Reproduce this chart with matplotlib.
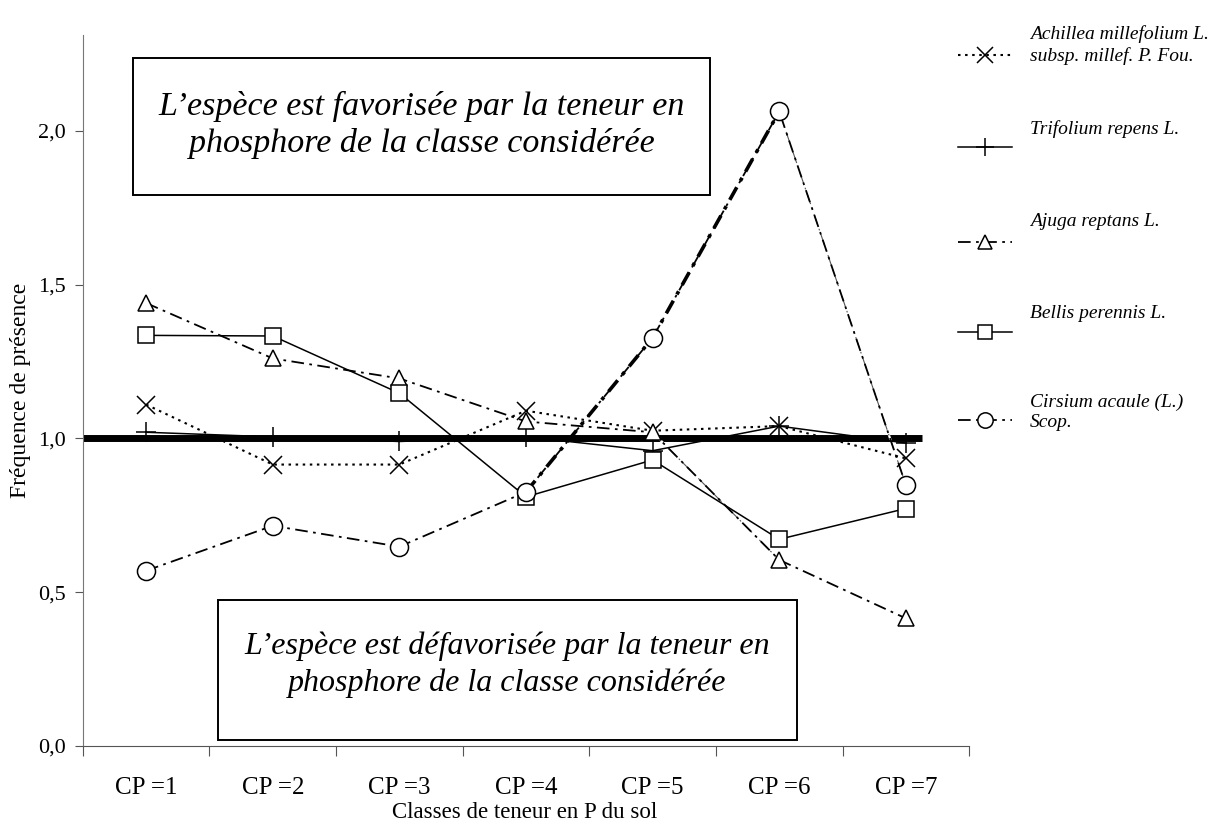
import matplotlib
matplotlib.use("Agg")
import matplotlib.pyplot as plt
from matplotlib.lines import Line2D
from matplotlib.patches import Rectangle
from matplotlib.ticker import FuncFormatter

plt.rcParams["font.family"] = ["Liberation Serif", "DejaVu Serif"]

classes = ["CP =1", "CP =2", "CP =3", "CP =4", "CP =5", "CP =6", "CP =7"]
achillea = [1.11, 0.915, 0.915, 1.09, 1.025, 1.04, 0.935]
trifolium = [1.02, 1.005, 0.99, 1.005, 0.96, 1.04, 0.985]
ajuga = [1.44, 1.26, 1.195, 1.055, 1.02, 0.605, 0.415]
bellis = [1.335, 1.333, 1.147, 0.81, 0.93, 0.672, 0.772]
cirsium = [0.57, 0.716, 0.648, 0.826, 1.327, 2.063, 0.849]

seuil = 1.0
y_ticks = [0.0, 0.5, 1.0, 1.5, 2.0]

labels = ["Achillea millefolium L.\nsubsp. millef. P. Fou.",
          "Trifolium repens L.",
          "Ajuga reptans L.",
          "Bellis perennis L.",
          "Cirsium acaule (L.)\nScop."]

dashdot = (0, (7, 3, 1.5, 3))
styles = [
    dict(ls=(0, (1.2, 2.2)), marker="x", ms=13, lw=1.5, mew=1.1),
    dict(ls="-", marker="+", ms=15, lw=1.1, mew=1.1),
    dict(ls=dashdot, marker="^", ms=12, lw=1.3, mew=1.1, mfc="white"),
    dict(ls="-", marker="s", ms=12, lw=1.1, mew=1.1, mfc="white"),
    dict(ls=dashdot, marker="o", ms=13, lw=1.3, mew=1.1, mfc="white"),
]
series = [achillea, trifolium, ajuga, bellis, cirsium]

fig = plt.figure(figsize=(12.19, 8.31), dpi=100)
ax = fig.add_axes([0.068, 0.1023, 0.727, 0.855])

x = list(range(1, len(classes) + 1))

ax.plot([0.5, 7.13], [seuil, seuil], color="black", lw=5, zorder=1, solid_capstyle="butt")

for vals, st in zip(series, styles):
    ax.plot(x, vals, color="black", zorder=3, **st)

# segments rendus plus épais / plus fins comme dans l'original
ax.plot(x[3:6], cirsium[3:6], color="black", ls=(0, (4, 2, 1, 2)), lw=2.6, zorder=2)
ax.plot(x[5:7], cirsium[5:7], color="white", lw=1.6, zorder=2.5)
ax.plot(x[5:7], cirsium[5:7], color="#555555", ls=(0, (10, 4, 1.5, 4)), lw=0.8, zorder=2.6)
ax.plot(x[4:6], ajuga[4:6], color="white", lw=1.6, zorder=2.5)
ax.plot(x[4:6], ajuga[4:6], color="#555555", ls=(0, (10, 4, 1.5, 4)), lw=0.8, zorder=2.6)

ax.set_xlim(0.5, 7.5)
ax.set_ylim(0, 2.31)

ax.set_yticks(y_ticks)
ax.yaxis.set_major_formatter(FuncFormatter(lambda v, p: f"{v:.1f}".replace(".", ",")))
ax.set_xticks([i + 0.5 for i in range(0, 8)])
ax.set_xticklabels([])
ax.set_xticks(x, minor=True)
ax.set_xticklabels(classes, minor=True)
ax.tick_params(axis="x", which="major", length=7, color="#555555")
ax.tick_params(axis="x", which="minor", length=0, pad=22, labelsize=18)
ax.tick_params(axis="y", length=6, color="#555555", labelsize=16, pad=6)

for s in ["top", "right"]:
    ax.spines[s].set_visible(False)
ax.spines["left"].set_color("#777777")
ax.spines["bottom"].set_color("#555555")

fig.text(0.017, 0.53, "Fréquence de présence", rotation=90, ha="center", va="center", fontsize=17)
fig.text(0.43, 0.022, "Classes de teneur en P du sol", ha="center", va="center", fontsize=16.5)

# boîtes d'annotation
W, H = 1219, 831
boxes = [((133, 58, 710, 195), 67, 24.5, 1.23,
          "L\u2019espèce est favorisée par la teneur en\nphosphore de la classe considérée"),
         ((218, 600, 797, 740), 65, 23, 1.33,
          "L\u2019espèce est défavorisée par la teneur en\nphosphore de la classe considérée")]
for (x0, y0, x1, y1), dy, fs, lsp, txt in boxes:
    fig.patches.append(Rectangle((x0 / W, 1 - y1 / H), (x1 - x0) / W, (y1 - y0) / H,
                                 transform=fig.transFigure, fill=True, fc="white",
                                 ec="black", lw=1.4, zorder=5))
    fig.text((x0 + x1) / 2 / W, 1 - (y0 + dy) / H, txt, ha="center", va="center",
             style="italic", fontsize=fs, linespacing=lsp, zorder=6)

# légende manuelle
leg_y = [55, 147, 242, 332, 420]
txt_y = [45, 129, 222, 313, 412]
for ly, ty, lab, st in zip(leg_y, txt_y, labels, styles):
    fy = 1 - ly / H
    fig.add_artist(Line2D([958 / W, 1012 / W], [fy, fy], transform=fig.transFigure,
                          color="black", ls=st["ls"], lw=st["lw"]))
    fig.add_artist(Line2D([985 / W], [fy], transform=fig.transFigure, color="black",
                          marker=st["marker"], ms=st["ms"] * 0.85, mew=st["mew"],
                          mfc=st.get("mfc", "black"), ls="none"))
    fig.text(1030 / W, 1 - ty / H, lab, ha="left", va="center", style="italic",
             fontsize=14, linespacing=1.24)

fig.savefig("out.png", dpi=100)
